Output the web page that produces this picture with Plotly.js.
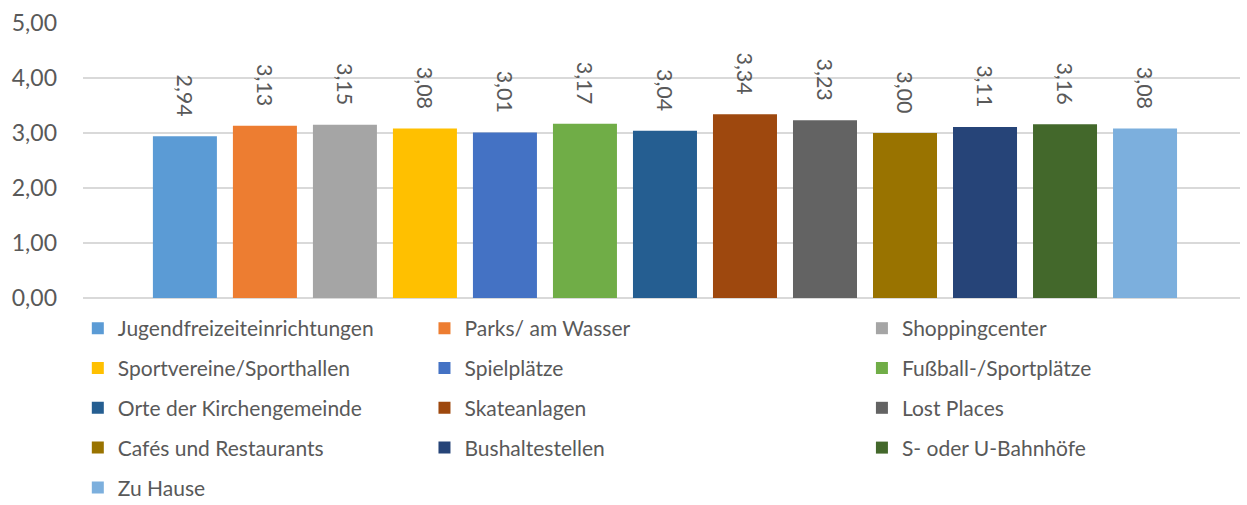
<!DOCTYPE html>
<html><head><meta charset="utf-8">
<script src="https://cdn.plot.ly/plotly-3.0.1.min.js"></script>
<style>html,body{margin:0;padding:0;background:#fff}#chart{width:1247px;height:505px}</style>
</head><body><div id="chart"></div>
<script>
const categories = ["Jugendfreizeiteinrichtungen","Parks/ am Wasser","Shoppingcenter","Sportvereine/Sporthallen","Spielplätze","Fußball-/Sportplätze","Orte der Kirchengemeinde","Skateanlagen","Lost Places","Cafés und Restaurants","Bushaltestellen","S- oder U-Bahnhöfe","Zu Hause"];
const values = [2.94,3.13,3.15,3.08,3.01,3.17,3.04,3.34,3.23,3.00,3.11,3.16,3.08];
const colors = ["#5B9BD5","#ED7D31","#A5A5A5","#FFC000","#4472C4","#70AD47","#255E91","#9E480E","#636363","#997300","#264478","#43682B","#7CAFDD"];
const yTicks = [0,1,2,3,4,5];

const FONT = "Lato, 'Open Sans', sans-serif";
const GREY = "#595959";
const legendNames = ["legend","legend2","legend3"];

const traces = categories.map((name,i)=>({
  type:"bar", name:name, x:[" "], y:[values[i]],
  marker:{color:colors[i]},
  texttemplate:"%{y:.2f}\u00a0\u00a0\u00a0", textposition:"outside", textangle:90,
  cliponaxis:false, constraintext:"none",
  textfont:{family:FONT,size:21.5,color:GREY},
  legend:legendNames[i%3], legendgroup:"g"+i,
  hoverinfo:"skip"
}));

function leg(x){
  return {xref:"container", yref:"container", x:x, y:0.39, xanchor:"left", yanchor:"top",
    orientation:"v", traceorder:"grouped", tracegroupgap:9.5, maxheight:400,
    font:{family:FONT,size:21,color:GREY}, bgcolor:"rgba(0,0,0,0)", itemwidth:30};
}

const layout = {
  width:1247, height:505,
  margin:{l:83,r:7,t:23,b:207,autoexpand:false},
  separators:",.",
  showlegend:true,
  barmode:"group", bargap:0.101, bargroupgap:0.2,
  paper_bgcolor:"#fff", plot_bgcolor:"#fff",
  font:{family:FONT,size:21.5,color:GREY},
  xaxis:{range:[-0.503,0.497], showticklabels:false, showgrid:false, zeroline:false, showline:false, ticks:""},
  yaxis:{range:[0,5], tickvals:yTicks, tickformat:".2f", showgrid:true, gridcolor:"#d9d9d9", gridwidth:1.3,
    zeroline:true, zerolinecolor:"#d9d9d9", zerolinewidth:1.3, showline:false, ticks:"", ticklabelstandoff:25,
    tickfont:{family:FONT,size:23,color:GREY}},
  legend:leg(0.0624),
  legend2:leg(0.3404),
  legend3:leg(0.6912)
};
Plotly.newPlot("chart", traces, layout, {displayModeBar:false, staticPlot:true});
</script></body></html>
